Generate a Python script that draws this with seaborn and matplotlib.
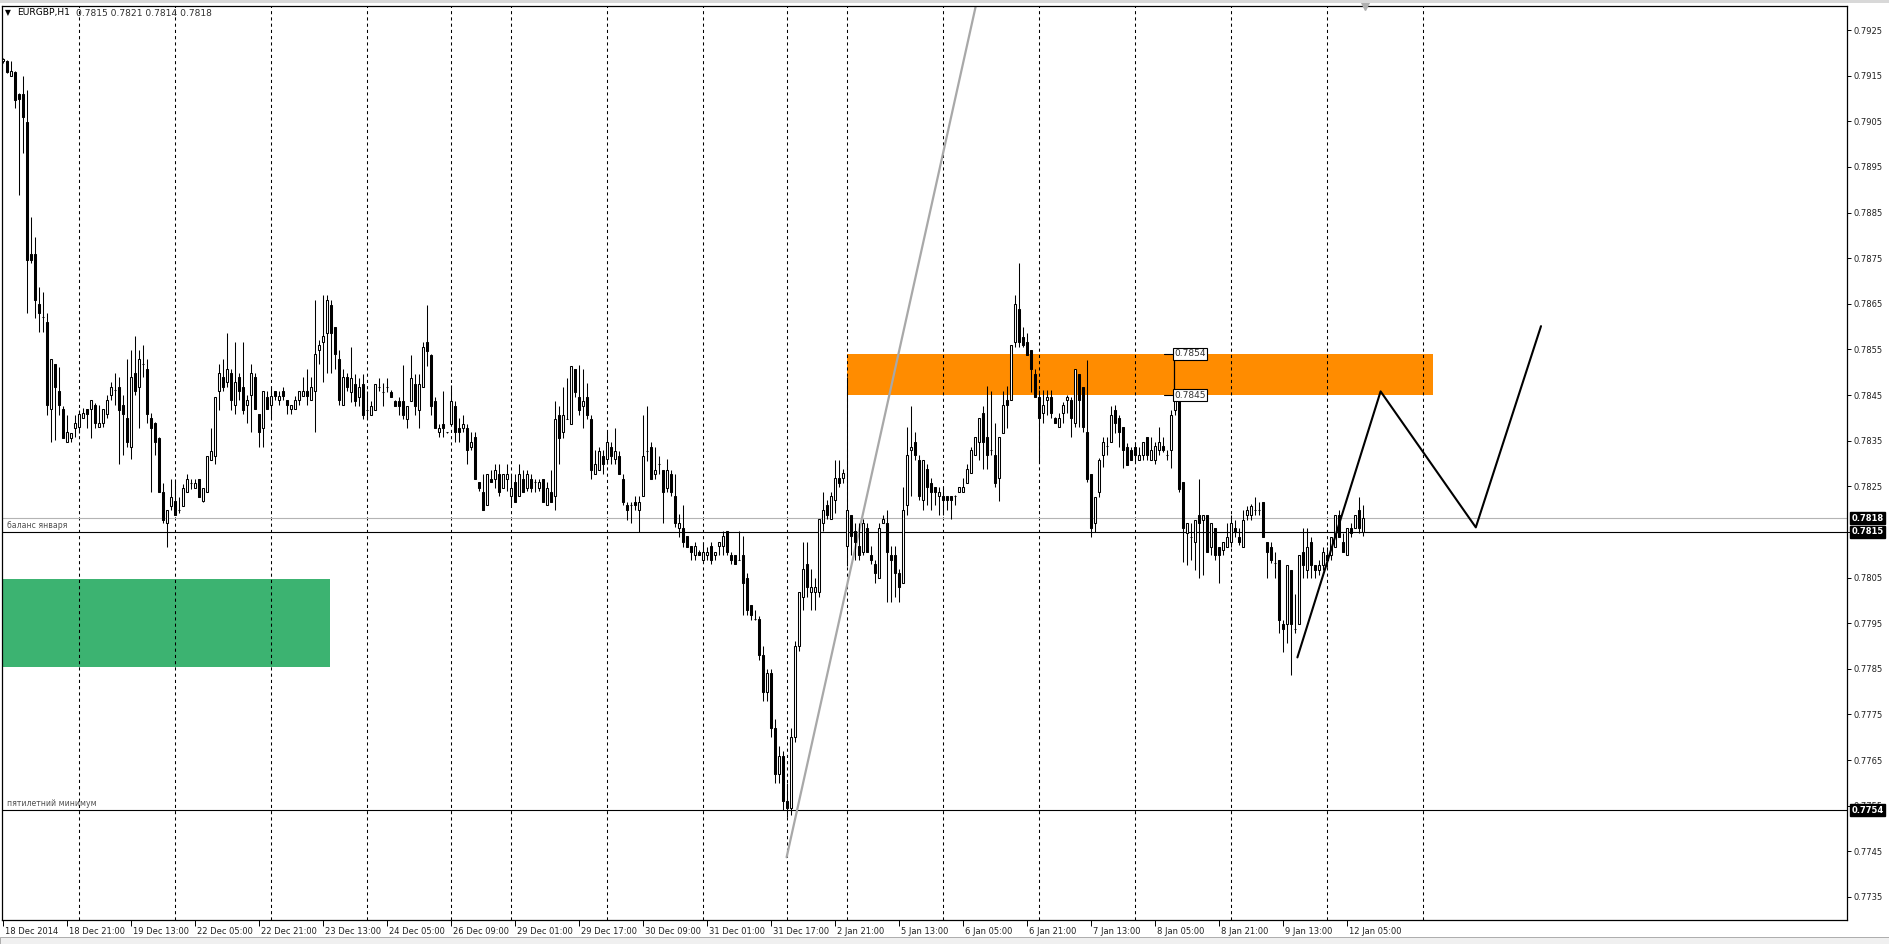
import numpy as np
import pandas as pd
import matplotlib
matplotlib.use("Agg")
import matplotlib.pyplot as plt
import matplotlib.transforms as mtransforms
from matplotlib.patches import Rectangle
import seaborn as sns

# ─── Data: EURGBP H1 candles, prices in points (1e-5) ────────────────────────
PT = 1e-5

OPEN = [
    79181, 79181, 79149, 79158, 79110, 79110, 79049, 78759, 78759, 78649,
    78620, 78611, 78419, 78519, 78459, 78419, 78348, 78356, 78377, 78381,
    78399, 78419, 78419, 78428, 78379, 78388, 78408, 78449, 78460, 78468,
    78428, 78400, 78337, 78499, 78468, 78518, 78508, 78399, 78388, 78356,
    78238, 78169, 78207, 78218, 78198, 78207, 78238, 78258, 78247, 78267,
    78218, 78238, 78308, 78317, 78459, 78489, 78479, 78498, 78428, 78489,
    78468, 78428, 78449, 78489, 78408, 78378, 78446, 78428, 78459, 78439,
    78459, 78439, 78419, 78419, 78439, 78448, 78459, 78439, 78459, 78549,
    78567, 78587, 78647, 78600, 78529, 78428, 78489, 78456, 78475, 78446,
    78475, 78417, 78407, 78417, 78467, 78456, 78467, 78456, 78436, 78436,
    78436, 78397, 78436, 78475, 78417, 78467, 78567, 78537, 78436, 78368,
    78387, 78368, 78387, 78426, 78378, 78378, 78378, 78337, 78358, 78259,
    78238, 78208, 78267, 78267, 78278, 78247, 78267, 78228, 78259, 78228,
    78267, 78247, 78267, 78259, 78247, 78267, 78208, 78238, 78228, 78407,
    78368, 78397, 78387, 78507, 78446, 78426, 78446, 78397, 78278, 78286,
    78317, 78309, 78337, 78309, 78317, 78267, 78208, 78208, 78216, 78197,
    78228, 78327, 78337, 78278, 78298, 78286, 78247, 78278, 78228, 78158,
    78158, 78140, 78119, 78100, 78107, 78089, 78100, 78119, 78100, 78119,
    78119, 78151, 78100, 78100, 78089, 78100, 78049, 77990, 77959, 77959,
    77880, 77800, 77840, 77720, 77620, 77660, 77560, 77545, 77700, 77900,
    78008, 78080, 78019, 78019, 78019, 78169, 78209, 78178, 78220, 78268,
    78268, 78119, 78187, 78151, 78119, 78107, 78158, 78100, 78080, 78049,
    78169, 78169, 78100, 78100, 78060, 78038, 78209, 78330, 78348, 78308,
    78220, 78287, 78258, 78249, 78229, 78229, 78229, 78229, 78229, 78238,
    78238, 78258, 78279, 78319, 78348, 78410, 78358, 78330, 78319, 78268,
    78366, 78439, 78439, 78567, 78638, 78578, 78567, 78548, 78497, 78446,
    78410, 78439, 78446, 78399, 78380, 78410, 78439, 78439, 78388, 78497,
    78468, 78369, 78278, 78169, 78238, 78318, 78338, 78348, 78417, 78399,
    78379, 78337, 78329, 78337, 78307, 78318, 78358, 78307, 78307, 78329,
    78338, 78318, 78329, 78417, 78439, 78260, 78147, 78139, 78128, 78187,
    78176, 78187, 78117, 78158, 78117, 78110, 78117, 78128, 78158, 78139,
    78117, 78187, 78187, 78198, 78198, 78216, 78128, 78117, 78081, 78088,
    77948, 77948, 78066, 77938, 77948, 78106, 78066, 78128, 78077, 78066,
    78077, 78099, 78099, 78117, 78187, 78128, 78099, 78158, 78158, 78198,
    78150,
]
HIGH = [
    79188, 79184, 79181, 79160, 79112, 79149, 79118, 78841, 78797, 78687,
    78676, 78629, 78529, 78519, 78512, 78425, 78406, 78367, 78406, 78417,
    78421, 78419, 78439, 78432, 78428, 78419, 78450, 78479, 78499, 78490,
    78450, 78529, 78549, 78580, 78549, 78560, 78529, 78410, 78390, 78358,
    78258, 78198, 78267, 78267, 78227, 78256, 78278, 78267, 78267, 78267,
    78247, 78317, 78378, 78446, 78519, 78529, 78587, 78508, 78567, 78499,
    78567, 78450, 78518, 78499, 78408, 78459, 78459, 78468, 78459, 78459,
    78468, 78439, 78428, 78448, 78459, 78489, 78508, 78489, 78658, 78571,
    78669, 78669, 78658, 78600, 78549, 78508, 78498, 78556, 78496, 78487,
    78496, 78458, 78436, 78475, 78487, 78477, 78487, 78460, 78440, 78446,
    78516, 78426, 78537, 78496, 78496, 78567, 78647, 78540, 78446, 78387,
    78458, 78370, 78472, 78436, 78399, 78407, 78387, 78368, 78368, 78259,
    78278, 78278, 78286, 78298, 78298, 78278, 78298, 78278, 78278, 78298,
    78286, 78286, 78278, 78267, 78267, 78267, 78259, 78286, 78436, 78426,
    78467, 78487, 78514, 78507, 78516, 78507, 78477, 78407, 78329, 78337,
    78329, 78368, 78348, 78378, 78327, 78278, 78216, 78216, 78228, 78228,
    78407, 78426, 78347, 78337, 78317, 78286, 78309, 78286, 78278, 78189,
    78209, 78142, 78119, 78129, 78110, 78129, 78118, 78129, 78107, 78129,
    78151, 78151, 78107, 78100, 78151, 78140, 78060, 77990, 77979, 77965,
    77900, 77850, 77850, 77740, 77680, 77670, 77600, 77720, 77910, 78019,
    78129, 78129, 78068, 78049, 78178, 78238, 78220, 78238, 78308, 78308,
    78287, 78490, 78187, 78169, 78169, 78178, 78169, 78119, 78089, 78169,
    78187, 78198, 78119, 78119, 78068, 78249, 78381, 78425, 78370, 78319,
    78308, 78298, 78268, 78249, 78249, 78249, 78229, 78229, 78231, 78249,
    78268, 78298, 78337, 78358, 78399, 78425, 78469, 78458, 78388, 78358,
    78458, 78469, 78560, 78669, 78739, 78599, 78585, 78548, 78508, 78461,
    78461, 78461, 78461, 78402, 78410, 78435, 78450, 78446, 78508, 78497,
    78468, 78527, 78278, 78227, 78311, 78358, 78358, 78426, 78428, 78406,
    78379, 78344, 78337, 78348, 78337, 78348, 78358, 78358, 78348, 78380,
    78358, 78329, 78417, 78457, 78457, 78260, 78169, 78169, 78177, 78267,
    78187, 78187, 78169, 78158, 78117, 78128, 78169, 78187, 78176, 78158,
    78198, 78207, 78212, 78227, 78216, 78216, 78128, 78128, 78106, 78088,
    77957, 78077, 78066, 78015, 78099, 78158, 78158, 78139, 78077, 78088,
    78117, 78117, 78139, 78187, 78198, 78147, 78158, 78169, 78187, 78227,
    78210,
]
LOW = [
    79178, 79155, 79149, 79078, 78888, 78980, 78629, 78739, 78618, 78589,
    78589, 78406, 78348, 78351, 78406, 78356, 78348, 78348, 78359, 78366,
    78399, 78378, 78356, 78377, 78379, 78379, 78399, 78439, 78428, 78298,
    78319, 78337, 78310, 78450, 78377, 78490, 78388, 78238, 78319, 78238,
    78169, 78118, 78198, 78187, 78191, 78207, 78238, 78245, 78247, 78227,
    78216, 78238, 78308, 78298, 78417, 78459, 78468, 78417, 78408, 78439,
    78408, 78388, 78370, 78419, 78337, 78337, 78419, 78399, 78439, 78428,
    78439, 78408, 78408, 78419, 78428, 78448, 78428, 78439, 78370, 78518,
    78479, 78499, 78499, 78508, 78428, 78428, 78459, 78434, 78426, 78426,
    78397, 78397, 78407, 78417, 78458, 78426, 78456, 78446, 78426, 78407,
    78397, 78378, 78436, 78407, 78378, 78467, 78514, 78407, 78378, 78358,
    78358, 78366, 78385, 78348, 78348, 78368, 78298, 78329, 78267, 78239,
    78197, 78208, 78259, 78247, 78228, 78247, 78239, 78208, 78216, 78228,
    78238, 78239, 78238, 78238, 78239, 78216, 78208, 78216, 78197, 78298,
    78356, 78397, 78387, 78446, 78407, 78378, 78397, 78267, 78278, 78286,
    78278, 78298, 78298, 78298, 78278, 78208, 78177, 78169, 78197, 78150,
    78228, 78306, 78267, 78267, 78278, 78169, 78238, 78228, 78161, 78138,
    78118, 78118, 78089, 78089, 78100, 78089, 78089, 78080, 78089, 78100,
    78100, 78100, 78080, 78080, 78089, 77968, 77968, 77957, 77957, 77870,
    77780, 77780, 77700, 77600, 77600, 77540, 77525, 77530, 77690, 77890,
    77979, 78008, 77979, 77979, 78008, 78151, 78178, 78178, 78191, 78249,
    78258, 78076, 78100, 78089, 78089, 78100, 78107, 78080, 78038, 78049,
    78169, 77997, 77997, 78008, 77997, 78038, 78187, 78228, 78308, 78220,
    78198, 78209, 78198, 78209, 78187, 78187, 78198, 78178, 78209, 78238,
    78238, 78258, 78279, 78319, 78308, 78287, 78287, 78319, 78249, 78217,
    78366, 78377, 78439, 78556, 78556, 78556, 78537, 78457, 78446, 78300,
    78388, 78406, 78399, 78388, 78380, 78388, 78410, 78358, 78380, 78380,
    78369, 78260, 78139, 78150, 78227, 78293, 78318, 78348, 78366, 78337,
    78289, 78296, 78307, 78300, 78307, 78307, 78307, 78307, 78299, 78318,
    78326, 78307, 78289, 78406, 78238, 78085, 78077, 78088, 78066, 78048,
    78055, 78106, 78099, 78088, 78037, 78099, 78117, 78117, 78139, 78121,
    78117, 78176, 78176, 78187, 78187, 78139, 78048, 78081, 78048, 77928,
    77887, 77906, 77836, 77928, 77948, 78048, 78048, 78048, 78048, 78055,
    78066, 78074, 78088, 78117, 78139, 78106, 78099, 78139, 78158, 78147,
    78140,
]
CLOSE = [
    79186, 79159, 79160, 79097, 79098, 79059, 78746, 78746, 78658, 78629,
    78620, 78428, 78529, 78468, 78428, 78356, 78370, 78367, 78388, 78408,
    78410, 78408, 78439, 78388, 78388, 78419, 78439, 78468, 78460, 78417,
    78408, 78348, 78490, 78459, 78529, 78518, 78408, 78378, 78348, 78238,
    78176, 78198, 78227, 78187, 78198, 78247, 78267, 78258, 78258, 78227,
    78247, 78317, 78328, 78446, 78498, 78468, 78508, 78439, 78479, 78459,
    78417, 78439, 78499, 78419, 78370, 78459, 78419, 78448, 78448, 78448,
    78448, 78428, 78428, 78439, 78459, 78459, 78448, 78468, 78539, 78560,
    78580, 78658, 78587, 78539, 78439, 78489, 78468, 78487, 78436, 78467,
    78407, 78417, 78426, 78475, 78467, 78456, 78467, 78446, 78426, 78426,
    78407, 78426, 78487, 78426, 78475, 78556, 78546, 78426, 78378, 78378,
    78378, 78368, 78436, 78368, 78368, 78387, 78329, 78347, 78267, 78247,
    78197, 78278, 78259, 78286, 78238, 78278, 78278, 78247, 78216, 78278,
    78238, 78278, 78247, 78259, 78259, 78216, 78247, 78216, 78397, 78356,
    78407, 78397, 78514, 78456, 78417, 78436, 78407, 78286, 78298, 78327,
    78298, 78347, 78317, 78327, 78278, 78216, 78197, 78208, 78208, 78216,
    78317, 78327, 78267, 78286, 78298, 78238, 78286, 78238, 78169, 78169,
    78129, 78118, 78107, 78119, 78100, 78107, 78107, 78089, 78107, 78129,
    78140, 78107, 78089, 78080, 78089, 78038, 77979, 77968, 77959, 77880,
    77800, 77840, 77720, 77620, 77660, 77560, 77545, 77700, 77900, 78019,
    78068, 78030, 78030, 78030, 78178, 78198, 78187, 78229, 78268, 78258,
    78279, 78198, 78140, 78129, 78100, 78169, 78107, 78089, 78060, 78158,
    78178, 78107, 78089, 78060, 78030, 78198, 78319, 78337, 78319, 78228,
    78308, 78249, 78238, 78238, 78238, 78220, 78220, 78220, 78229, 78249,
    78249, 78287, 78330, 78358, 78399, 78348, 78319, 78330, 78258, 78358,
    78428, 78428, 78560, 78649, 78567, 78560, 78537, 78506, 78446, 78399,
    78428, 78446, 78410, 78388, 78399, 78428, 78446, 78399, 78508, 78439,
    78380, 78267, 78158, 78227, 78307, 78348, 78338, 78406, 78388, 78369,
    78329, 78296, 78307, 78318, 78318, 78348, 78318, 78329, 78338, 78348,
    78329, 78318, 78406, 78439, 78245, 78158, 78169, 78139, 78177, 78169,
    78187, 78106, 78169, 78099, 78099, 78128, 78139, 78169, 78150, 78128,
    78177, 78198, 78207, 78198, 78198, 78139, 78106, 78088, 78081, 77957,
    77938, 78077, 77948, 77938, 78099, 78077, 78117, 78077, 78066, 78077,
    78106, 78088, 78139, 78187, 78139, 78106, 78158, 78147, 78187, 78158,
    78180,
]

TIME_LABELS = [
    "18 Dec 2014", "18 Dec 21:00", "19 Dec 13:00", "22 Dec 05:00", "22 Dec 21:00",
    "23 Dec 13:00", "24 Dec 05:00", "26 Dec 09:00", "29 Dec 01:00", "29 Dec 17:00",
    "30 Dec 09:00", "31 Dec 01:00", "31 Dec 17:00", "2 Jan 21:00", "5 Jan 13:00",
    "6 Jan 05:00", "6 Jan 21:00", "7 Jan 13:00", "8 Jan 05:00", "8 Jan 21:00",
    "9 Jan 13:00", "12 Jan 05:00",
]
LABEL_STEP = 16                         # bars between time labels
DAY_BARS = [19, 43, 67, 91, 112, 127, 151, 175, 196, 211, 235, 259, 283, 307, 331, 355]

PRICE_TICKS = [0.7735, 0.7745, 0.7755, 0.7765, 0.7775, 0.7785, 0.7795, 0.7805, 0.7815,
               0.7825, 0.7835, 0.7845, 0.7855, 0.7865, 0.7875, 0.7885, 0.7895, 0.7905,
               0.7915, 0.7925]

LEVEL_BID = 0.7815        # "баланс января"
LEVEL_ASK = 0.7818
LEVEL_MIN = 0.7754        # "пятилетний минимум"
GREEN_ZONE = (0.77853, 0.78047)
GREEN_BARS = (-0.25, 81.75)
ORANGE_ZONE = (0.7845, 0.7854)
ORANGE_BARS = (210.9, 357.6)
LABEL_BAR = 292.75

TREND_BARS = [195.9, 250.0]
TREND_PRICES = [0.77437, 0.79571]
ZIGZAG_BARS = [323.6, 344.4, 368.2, 384.5]
ZIGZAG_PRICES = [0.77875, 0.78458, 0.78160, 0.78601]

HEADER = "EURGBP,H1"
HEADER_OHLC = "0.7815 0.7821 0.7814 0.7818"

# ─── Figure ──────────────────────────────────────────────────────────────────
sns.set_theme(style="white")
plt.rcParams["font.family"] = ["DejaVu Sans"]

W, H = 1889, 944
fig = plt.figure(figsize=(W / 100, H / 100), dpi=100)
fig.patch.set_facecolor("white")
ax = fig.add_axes([2 / W, 1 - 920 / H, 1845 / W, 914 / H])
ax.set_facecolor("white")

o = np.array(OPEN) * PT
h = np.array(HIGH) * PT
l = np.array(LOW) * PT
c = np.array(CLOSE) * PT
x = np.arange(len(o))

ylo, yhi = 0.772995, 0.793026
ax.set_xlim(-0.25, 461.0)
ax.set_ylim(ylo, yhi)

# ── zones (background) ──
ax.add_patch(Rectangle((GREEN_BARS[0], GREEN_ZONE[0]), GREEN_BARS[1] - GREEN_BARS[0],
                       GREEN_ZONE[1] - GREEN_ZONE[0], facecolor="#3CB371", edgecolor="none", zorder=0))
ax.add_patch(Rectangle((ORANGE_BARS[0], ORANGE_ZONE[0]), ORANGE_BARS[1] - ORANGE_BARS[0],
                       ORANGE_ZONE[1] - ORANGE_ZONE[0], facecolor="#FF8C00", edgecolor="none", zorder=0))

# ── day separators ──
ax.vlines(DAY_BARS, ylo, yhi, colors="black", linestyles=(0, (3, 3)), linewidth=0.75, zorder=1)

# ── horizontal levels ──
ax.axhline(LEVEL_ASK, color="#B4B4B4", linewidth=0.8, zorder=1)
ax.axhline(LEVEL_BID, color="black", linewidth=0.8, zorder=1)
ax.axhline(LEVEL_MIN, color="black", linewidth=0.8, zorder=1)

# ── trend line (grey) ──
sns.lineplot(x=TREND_BARS, y=TREND_PRICES, ax=ax, color="#A8A8A8", linewidth=1.6,
             sort=False, estimator=None, zorder=2)

# ── candles ──
bull = c >= o
ax.vlines(x, l, h, colors="black", linewidth=0.75, zorder=3)
body_lo = np.minimum(o, c)
body_h = np.maximum(np.abs(c - o), 0.3 * PT)
ax.bar(x[bull], body_h[bull], bottom=body_lo[bull], width=0.58,
       facecolor="white", edgecolor="black", linewidth=0.75, zorder=4)
ax.bar(x[~bull], body_h[~bull], bottom=body_lo[~bull], width=0.58,
       facecolor="black", edgecolor="black", linewidth=0.75, zorder=4)

# ── projection zigzag ──
zz = pd.DataFrame({"bar": ZIGZAG_BARS, "price": ZIGZAG_PRICES})
sns.lineplot(data=zz, x="bar", y="price", ax=ax, color="black", linewidth=1.5,
             sort=False, estimator=None, zorder=5)

# ── price labels of the orange zone ──
for lvl in ORANGE_ZONE:
    ax.plot([LABEL_BAR - 2.6, LABEL_BAR], [lvl, lvl], color="black", linewidth=0.8, zorder=6)
    ax.text(LABEL_BAR, lvl, f"{lvl:.4f}", fontsize=6.5, color="#333333", ha="left", va="center",
            zorder=7, bbox=dict(boxstyle="square,pad=0.15", fc="white", ec="black", lw=0.8))
ax.plot([LABEL_BAR, LABEL_BAR], list(ORANGE_ZONE), color="black", linewidth=0.9, zorder=6)

# ── level captions ──
ax.text(1.0, LEVEL_BID + 0.4 * 1e-4, "баланс января", fontsize=5.6, color="#505050",
        ha="left", va="bottom", zorder=6)
ax.text(1.0, LEVEL_MIN + 0.4 * 1e-4, "пятилетний минимум", fontsize=5.6, color="#505050",
        ha="left", va="bottom", zorder=6)

# ── axes: right price scale, bottom time scale ──
for s in ax.spines.values():
    s.set_color("black")
    s.set_linewidth(0.9)
ax.yaxis.tick_right()
ax.set_yticks(PRICE_TICKS)
ax.set_yticklabels([f"{v:.4f}" for v in PRICE_TICKS])
ax.tick_params(axis="y", which="major", right=True, left=False, length=3, width=0.7,
               pad=2, labelsize=6.0, labelcolor="#202020", color="black")

tick_pos = [i * LABEL_STEP for i in range(len(TIME_LABELS))]
ax.set_xticks(tick_pos)
ax.set_xticklabels(TIME_LABELS)
ax.tick_params(axis="x", which="major", bottom=True, length=4, width=0.7, pad=1,
               labelsize=6.0, labelcolor="#202020", color="black")
shift = mtransforms.ScaledTranslation(2 / 100, 0, fig.dpi_scale_trans)
for lab in ax.get_xticklabels():
    lab.set_horizontalalignment("left")
    lab.set_transform(lab.get_transform() + shift)
ax.set_xlabel("")
ax.set_ylabel("")
ax.grid(False)

# ── current price boxes on the scale ──
ytrans = mtransforms.blended_transform_factory(ax.transAxes, ax.transData)
for lvl in (LEVEL_ASK, LEVEL_BID, LEVEL_MIN):
    ax.text(1.0025, lvl, f"{lvl:.4f}", transform=ytrans, fontsize=6.0, color="white",
            fontweight="bold", ha="left", va="center", clip_on=False, zorder=10,
            bbox=dict(boxstyle="square,pad=0.16", fc="black", ec="black"))

# ── header + chart shift marker ──
fig.text(5 / W, 1 - 13 / H, "▼", fontsize=5.5, color="black", ha="left", va="center")
fig.text(17 / W, 1 - 13 / H, HEADER, fontsize=6.6, color="black", ha="left", va="center")
fig.text(76 / W, 1 - 13 / H, HEADER_OHLC, fontsize=6.6, color="#303030", ha="left", va="center")
ax.plot([340.5], [yhi], marker="v", markersize=6, color="#B0B0B0", clip_on=False, zorder=9)

# ── window chrome ──
fig.add_artist(Rectangle((0, 0), 1, 7 / H, transform=fig.transFigure,
                         facecolor="#F0F0F0", edgecolor="#A0A0A0", linewidth=0.6))
fig.add_artist(Rectangle((0, 1 - 3 / H), 1, 3 / H, transform=fig.transFigure,
                         facecolor="#D8D8D8", edgecolor="none"))

fig.savefig("out.png", dpi=100)
